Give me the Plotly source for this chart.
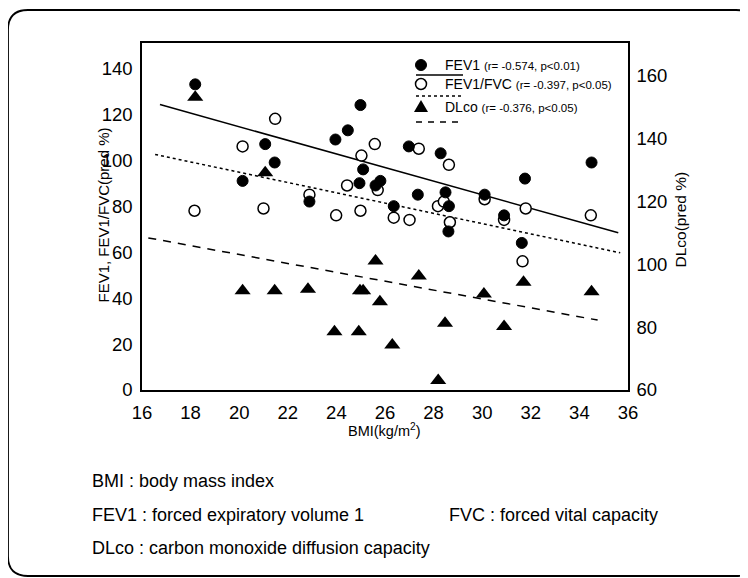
import plotly.graph_objects as go

# ---------------- data ----------------
bmi_fev1 = [18.19, 20.14, 21.07, 21.46, 22.89, 23.96, 24.47, 24.99, 25.10, 24.95,
            25.61, 25.81, 26.36, 26.98, 27.35, 28.29, 28.49, 28.63, 28.61, 30.10,
            30.90, 31.63, 31.76, 34.50]
fev1 = [133, 91, 107, 99, 82, 109, 113, 124, 96, 90,
        89, 91, 80, 106, 85, 103, 86, 80, 69, 85,
        76, 64, 92, 99]

bmi_ratio = [18.16, 20.14, 21.00, 21.48, 22.89, 23.99, 24.44, 24.99, 25.03, 25.58,
             25.70, 26.36, 27.01, 27.39, 28.18, 28.42, 28.63, 28.67, 30.10, 30.90,
             31.66, 31.79, 34.47]
fev1_fvc = [78, 106, 79, 118, 85, 76, 89, 78, 102, 107,
            87, 75, 74, 105, 80, 82, 98, 73, 83, 74,
            56, 79, 76]

bmi_dlco = [18.19, 20.14, 21.07, 21.46, 22.83, 23.92, 24.92, 24.97, 25.10, 25.61,
            25.79, 26.30, 27.39, 28.19, 28.47, 30.07, 30.90, 31.70, 34.50]
dlco = [153, 91.5, 129, 91.5, 92, 78.5, 78.5, 91.5, 91.5, 101,
        88, 74.3, 96.2, 63, 81.2, 90.5, 80.2, 94.2, 91.2]

# fitted regression lines (end points)
fit_fev1_x = [16.74, 35.60]
fit_fev1_y = [124.2, 68.4]
fit_ratio_x = [16.54, 35.68]
fit_ratio_y = [102.5, 59.7]
fit_dlco_x = [16.26, 34.75]
fit_dlco_y = [108.3, 82.2]

x_ticks = [16, 18, 20, 22, 24, 26, 28, 30, 32, 34, 36]
y_ticks = [0, 20, 40, 60, 80, 100, 120, 140]
y2_ticks = [60, 80, 100, 120, 140, 160]

legend_labels = ["FEV1", "FEV1/FVC", "DLco"]
legend_stats = ["(r= -0.574, p&lt;0.01)", "(r= -0.397, p&lt;0.05)", "(r= -0.376, p&lt;0.05)"]

# ---------------- layout helpers ----------------
# the page body has an 8px margin, so the figure sits 8px right/down in the window
OFF = 8
W, H = 748 - OFF, 578 - OFF
# plot area in window pixels
L, R, T, B = 142, 628, 43, 390
PW, PH = R - L, B - T


def px(xp):
    return (xp - L) / PW


def py(yp):
    return (B - yp) / PH


FONT = "Liberation Sans, Arial, sans-serif"

fig = go.Figure()

# fitted lines
fig.add_trace(go.Scatter(x=fit_fev1_x, y=fit_fev1_y, mode="lines",
                         line=dict(color="black", width=1.5), hoverinfo="skip"))
fig.add_trace(go.Scatter(x=fit_ratio_x, y=fit_ratio_y, mode="lines",
                         line=dict(color="black", width=1.5, dash="3px,3px"), hoverinfo="skip"))
fig.add_trace(go.Scatter(x=fit_dlco_x, y=fit_dlco_y, mode="lines", yaxis="y2",
                         line=dict(color="black", width=1.5, dash="8px,7px"), hoverinfo="skip"))

# markers
fig.add_trace(go.Scatter(x=bmi_dlco, y=dlco, mode="markers", yaxis="y2", name="DLco",
                         marker=dict(symbol="triangle-up", size=14, color="black",
                                     line=dict(width=0))))
fig.add_trace(go.Scatter(x=bmi_ratio, y=fev1_fvc, mode="markers", name="FEV1/FVC",
                         marker=dict(symbol="circle", size=11, color="white",
                                     line=dict(color="black", width=1.5))))
fig.add_trace(go.Scatter(x=bmi_fev1, y=fev1, mode="markers", name="FEV1",
                         marker=dict(symbol="circle", size=11, color="black",
                                     line=dict(color="black", width=1))))

shapes = []
annotations = []

# outer rounded frame
l, r, t, b, rad = 8, 756, 10, 576, 20
path = (f"M {px(l)},{py(t + rad)} Q {px(l)},{py(t)} {px(l + rad)},{py(t)} "
        f"L {px(r - rad)},{py(t)} Q {px(r)},{py(t)} {px(r)},{py(t + rad)} "
        f"L {px(r)},{py(b - rad)} Q {px(r)},{py(b)} {px(r - rad)},{py(b)} "
        f"L {px(l + rad)},{py(b)} Q {px(l)},{py(b)} {px(l)},{py(b - rad)} Z")
shapes.append(dict(type="path", xref="paper", yref="paper", path=path,
                   line=dict(color="black", width=1.8), layer="below"))

# custom legend
rows_y = [65, 84, 107]
lines_y = [75, 96, 122]
dashes = ["solid", "3px,3px", "6px,6px"]
mx = 421
for i in range(3):
    yy = rows_y[i]
    if i == 0:
        shapes.append(dict(type="circle", xref="paper", yref="paper", xsizemode="pixel",
                           ysizemode="pixel", xanchor=px(mx), yanchor=py(yy),
                           x0=-5.5, x1=5.5, y0=-5.5, y1=5.5,
                           fillcolor="black", line=dict(color="black", width=1)))
    elif i == 1:
        shapes.append(dict(type="circle", xref="paper", yref="paper", xsizemode="pixel",
                           ysizemode="pixel", xanchor=px(mx), yanchor=py(yy),
                           x0=-5.5, x1=5.5, y0=-5.5, y1=5.5,
                           fillcolor="white", line=dict(color="black", width=1.5)))
    else:
        shapes.append(dict(type="path", xref="paper", yref="paper", xsizemode="pixel",
                           ysizemode="pixel", xanchor=px(mx), yanchor=py(yy),
                           path="M -7,-5 L 7,-5 L 0,7 Z",
                           fillcolor="black", line=dict(color="black", width=0)))
    shapes.append(dict(type="line", xref="paper", yref="paper",
                       x0=px(416), x1=px(463), y0=py(lines_y[i]), y1=py(lines_y[i]),
                       line=dict(color="black", width=1.3, dash=dashes[i])))
    annotations.append(dict(xref="paper", yref="paper", x=px(443), y=py(yy),
                            xanchor="left", yanchor="middle", showarrow=False,
                            text=f"{legend_labels[i]} <span style='font-size:11.5px'>{legend_stats[i]}</span>",
                            font=dict(family=FONT, size=14, color="black")))

# axis titles
annotations.append(dict(xref="paper", yref="paper", x=px(92), y=py(215), textangle=-90,
                        showarrow=False, text="FEV1, FEV1/FVC(pred %)",
                        font=dict(family=FONT, size=15, color="black")))
annotations.append(dict(xref="paper", yref="paper", x=px(690), y=py(220), textangle=-90,
                        showarrow=False, text="DLco(pred %)",
                        font=dict(family=FONT, size=15.5, color="black")))
annotations.append(dict(xref="paper", yref="paper", x=px(384), y=py(441),
                        showarrow=False, text="BMI(kg/m<sup>2</sup>)",
                        font=dict(family=FONT, size=14.5, color="black")))

# footnotes
notes = [("BMI : body mass index", 90, 481),
         ("FEV1 : forced expiratory volume 1", 90, 515),
         ("FVC : forced vital capacity", 447, 515),
         ("DLco : carbon monoxide diffusion capacity", 90, 548)]
for txt, xx, yy in notes:
    annotations.append(dict(xref="paper", yref="paper", x=px(xx), y=py(yy),
                            xanchor="left", yanchor="middle", showarrow=False, text=txt,
                            font=dict(family=FONT, size=18, color="black")))

axis_common = dict(showgrid=False, zeroline=False, showline=True, linecolor="black",
                   linewidth=1.5, ticks="", tickfont=dict(family=FONT, size=18.5, color="black"))

fig.update_layout(
    width=W, height=H,
    margin=dict(l=L - OFF, r=W - (R - OFF), t=T - OFF, b=H - (B - OFF), pad=0),
    paper_bgcolor="white", plot_bgcolor="white",
    showlegend=False,
    xaxis=dict(range=[16, 36], tickvals=x_ticks, mirror=True, ticklabelstandoff=5, **axis_common),
    yaxis=dict(range=[0, 151], tickvals=y_ticks, mirror=True, ticklabelstandoff=4, **axis_common),
    yaxis2=dict(range=[60, 170.2], tickvals=y2_ticks, overlaying="y", side="right",
                ticklabelstandoff=3, **axis_common),
    shapes=shapes,
    annotations=annotations,
)

fig.write_html("out.html")
